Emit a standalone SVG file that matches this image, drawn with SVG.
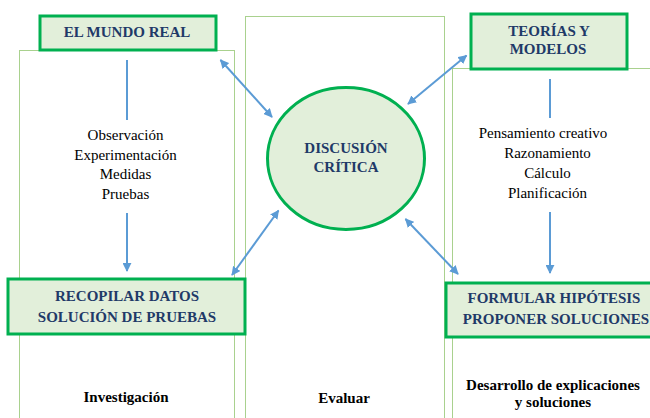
<svg xmlns="http://www.w3.org/2000/svg" width="650" height="418" viewBox="0 0 650 418">
<style>
.panel{fill:none;stroke:#A9D18E;stroke-width:1}
.box{fill:#E2EFDA;stroke:#00B050;stroke-width:3}
text{font-family:'Liberation Serif','DejaVu Serif',serif;font-size:15px;text-anchor:middle}
.ttl{font-weight:bold;fill:#1F3A68}
.lst{fill:#000}
.bot{font-weight:bold;fill:#000}
.con{fill:none;stroke:#5B9BD5;stroke-width:2}
</style>
<defs>
<marker id="ah" viewBox="0 0 10 10" refX="9" refY="5" markerWidth="4.5" markerHeight="4.5" orient="auto-start-reverse" markerUnits="strokeWidth">
<path d="M0,0 L10,5 L0,10 z" fill="#5B9BD5"/>
</marker>
</defs>
<rect width="650" height="418" fill="#fff"/>
<g id="panels">
<rect class="panel" x="19.5" y="50.5" width="215" height="380"/>
<rect class="panel" x="245.5" y="16.5" width="199" height="420"/>
<rect class="panel" x="452.5" y="68.5" width="220" height="380"/>
</g>
<g id="connectors">
<line class="con" x1="127" y1="60" x2="127" y2="120"/>
<line class="con" x1="127" y1="213" x2="127" y2="271" marker-end="url(#ah)"/>
<line class="con" x1="550" y1="79" x2="550" y2="118"/>
<line class="con" x1="550" y1="212" x2="550" y2="273" marker-end="url(#ah)"/>
<line class="con" x1="220.5" y1="60" x2="272" y2="117" marker-start="url(#ah)" marker-end="url(#ah)"/>
<line class="con" x1="408" y1="104" x2="466.5" y2="55.5" marker-start="url(#ah)" marker-end="url(#ah)"/>
<line class="con" x1="278.5" y1="210.5" x2="232" y2="275" marker-start="url(#ah)" marker-end="url(#ah)"/>
<line class="con" x1="405.5" y1="219" x2="458" y2="274" marker-start="url(#ah)" marker-end="url(#ah)"/>
</g>
<g id="mundo-real">
<rect class="box" x="40" y="16" width="176" height="34"/>
<text class="ttl" x="127" y="37">EL MUNDO REAL</text>
</g>
<g id="teorias">
<rect class="box" x="471" y="14" width="156" height="55"/>
<text class="ttl" x="549" y="36">TEORÍAS Y</text>
<text class="ttl" x="548" y="54">MODELOS</text>
</g>
<g id="discusion">
<ellipse cx="346" cy="158.5" rx="78.5" ry="71" fill="#E2EFDA" stroke="#00B050" stroke-width="3"/>
<text class="ttl" x="346" y="153">DISCUSIÓN</text>
<text class="ttl" x="346" y="172">CRÍTICA</text>
</g>
<g id="recopilar">
<rect class="box" x="8" y="279" width="237" height="55"/>
<text class="ttl" x="127" y="301">RECOPILAR DATOS</text>
<text class="ttl" x="127" y="322">SOLUCIÓN DE PRUEBAS</text>
</g>
<g id="formular">
<rect class="box" x="446" y="283" width="220" height="54"/>
<text class="ttl" x="554" y="303">FORMULAR HIPÓTESIS</text>
<text class="ttl" x="556" y="324">PROPONER SOLUCIONES</text>
</g>
<g id="lista-izq">
<text class="lst" x="125.5" y="140">Observación</text>
<text class="lst" x="125.5" y="159.5">Experimentación</text>
<text class="lst" x="125.5" y="179">Medidas</text>
<text class="lst" x="125.5" y="198.5">Pruebas</text>
</g>
<g id="lista-der">
<text class="lst" x="543" y="138">Pensamiento creativo</text>
<text class="lst" x="547.5" y="158">Razonamiento</text>
<text class="lst" x="547.5" y="178">Cálculo</text>
<text class="lst" x="547.5" y="198">Planificación</text>
</g>
<g id="etiquetas">
<text class="bot" x="126" y="402">Investigación</text>
<text class="bot" x="344" y="403">Evaluar</text>
<text class="bot" x="553" y="390">Desarrollo de explicaciones</text>
<text class="bot" x="553" y="407">y soluciones</text>
</g>
</svg>
